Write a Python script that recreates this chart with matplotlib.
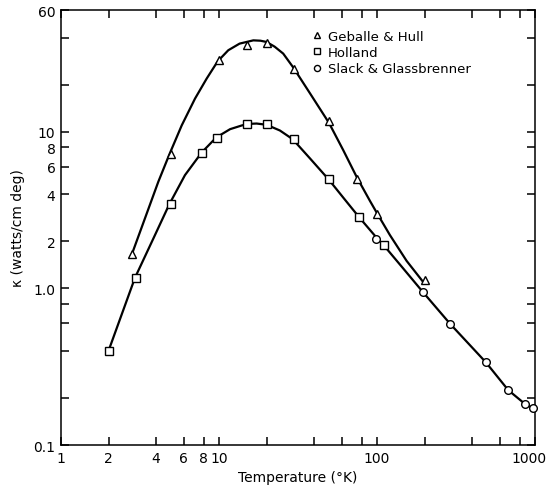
import matplotlib
matplotlib.use("Agg")
import matplotlib.pyplot as plt
import matplotlib.transforms as mtransforms
from matplotlib.ticker import FixedLocator, FixedFormatter, NullLocator

# measured points (temperature in K, conductivity in watts/cm deg)
geb_T = [2.8, 5, 10, 15, 20, 30, 50, 75, 100, 200]
geb_k = [1.65, 7.2, 28.6, 35.7, 37.0, 25.1, 11.7, 5.03, 2.97, 1.13]

hol_T = [2, 3, 5, 7.8, 9.7, 15, 20, 30, 50, 77, 111]
hol_k = [0.40, 1.17, 3.45, 7.38, 9.16, 11.3, 11.2, 8.97, 4.98, 2.87, 1.89]

sla_T = [99, 195, 290, 487, 678, 864, 965]
sla_k = [2.08, 0.943, 0.595, 0.339, 0.224, 0.183, 0.173]

# smooth curves
curve1_T = [2.77, 4.13, 4.85, 5.81, 7.05, 8.36, 9.81, 11.45, 13.5, 16.5, 18.3,
            20, 22.5, 25.5, 29.5, 37.7, 49.7, 61.2, 74.4, 90.3, 100.5, 120.8, 154, 196]
curve1_k = [1.59, 4.8, 7.17, 11.0, 16.3, 21.9, 28.2, 33.2, 36.6, 38.4, 38.2,
            37.5, 35.0, 31.6, 25.8, 17.6, 11.4, 7.63, 5.15, 3.62, 3.0, 2.19, 1.5, 1.10]

curve2_T = [2, 2.94, 3.84, 4.85, 6.09, 7.77, 9.6, 11.75, 14, 15.7, 17.3, 20, 24.3,
            29.3, 37.7, 49.5, 61.2, 77.3, 99, 110.7, 146.7, 195, 290, 487, 678, 864, 967]
curve2_k = [0.40, 1.17, 2.08, 3.45, 5.29, 7.38, 9.2, 10.4, 11.0, 11.25, 11.3, 11.1, 10.2,
            8.97, 6.76, 4.96, 3.8, 2.84, 2.12, 1.88, 1.34, 0.95, 0.595, 0.339, 0.224, 0.183, 0.172]

xticks = [1, 2, 4, 6, 8, 10, 20, 40, 60, 80, 100, 200, 400, 600, 800, 1000]
xlabels = ['1', '2', '4', '6', '8', '10', '', '', '', '', '100', '', '', '', '', '1000']
yticks = [0.1, 0.2, 0.4, 0.6, 0.8, 1, 2, 4, 6, 8, 10, 20, 40, 60]
ylabels = ['0.1', '', '', '', '', '1.0', '2', '4', '6', '8', '10', '', '', '60']

plt.rcParams['font.family'] = ['DejaVu Sans']

fig = plt.figure(figsize=(5.55, 4.89), dpi=100)
ax = fig.add_axes([0.1099, 0.0879, 0.854, 0.8896])

ax.plot(curve1_T, curve1_k, 'k-', lw=1.6, zorder=2, solid_joinstyle='round')
ax.plot(curve2_T, curve2_k, 'k-', lw=1.6, zorder=2, solid_joinstyle='round')

mk = dict(ls='none', mfc='white', mec='black', mew=1.0, ms=5.5, zorder=3, clip_on=False)
ax.plot(geb_T, geb_k, marker='^', label='Geballe & Hull', **mk)
ax.plot(hol_T, hol_k, marker='s', label='Holland', **mk)
ax.plot(sla_T, sla_k, marker='o', label='Slack & Glassbrenner', **mk)

ax.set_xscale('log')
ax.set_yscale('log')
ax.set_xlim(1, 1000)
ax.set_ylim(0.1, 60)

ax.xaxis.set_major_locator(FixedLocator(xticks))
ax.xaxis.set_major_formatter(FixedFormatter(xlabels))
ax.xaxis.set_minor_locator(NullLocator())
ax.yaxis.set_major_locator(FixedLocator(yticks))
ax.yaxis.set_major_formatter(FixedFormatter(ylabels))
ax.yaxis.set_minor_locator(NullLocator())

ax.tick_params(which='both', direction='in', top=True, right=True,
               length=6, width=1.1, labelsize=10, pad=4)
for s in ax.spines.values():
    s.set_linewidth(1.1)

# nudge the last x label inside, as in the original
fig.canvas.draw()
last = ax.get_xticklabels()[-1]
last.set_transform(last.get_transform() +
                   mtransforms.ScaledTranslation(-0.06, 0, fig.dpi_scale_trans))

ax.set_xlabel('Temperature (°K)', fontsize=10, labelpad=4)
ax.set_ylabel('κ (watts/cm deg)', fontsize=10, labelpad=6)

ax.legend(loc='upper left', bbox_to_anchor=(0.53, 0.955), frameon=False,
          fontsize=9.5, handlelength=0.8, handletextpad=0.4, labelspacing=0.25,
          borderpad=0, borderaxespad=0, markerscale=0.8)

fig.savefig('out.png', dpi=100)
